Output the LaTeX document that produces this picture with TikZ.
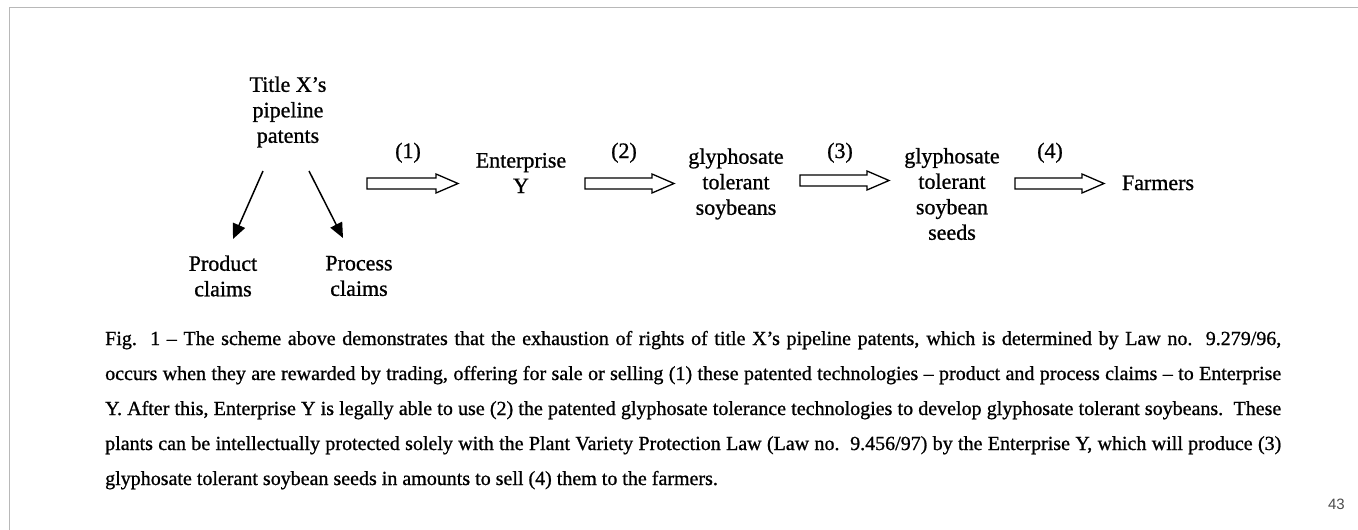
\documentclass[tikz,border=0pt]{standalone}
\usepackage{fontspec}
\setmainfont{Liberation Serif}[FakeBold=0.9]
\newfontfamily\pagefont{Liberation Sans}
\usetikzlibrary{calc,arrows.meta}
\tikzset{
  lbl/.style={inner sep=0pt, font=\fontsize{22}{25.5}\selectfont, align=center},
  numlbl/.style={inner sep=0pt, font=\fontsize{22}{25.5}\selectfont, anchor=base},
  captxt/.style={inner sep=0pt, anchor=base west, font=\fontsize{20}{35}\selectfont},
  thinarr/.style={line width=1.5pt, -{Triangle[length=15pt,width=13pt]}},
  blockarr/.style={line width=1.3pt, line join=miter,
    to path={let \p1=(\tikztostart), \p2=(\tikztotarget) in
      (\x1,\y1+5.5pt) -- (\x2-22pt,\y1+5.5pt) -- (\x2-22pt,\y1+9.5pt) -- (\x2,\y1)
      -- (\x2-22pt,\y1-9.5pt) -- (\x2-22pt,\y1-5.5pt) -- (\x1,\y1-5.5pt) -- cycle}},
  framegray/.style={draw=black!28, line width=1.5pt}
}
\begin{document}
\begin{tikzpicture}[x=1pt,y=-1pt]
\useasboundingbox (0,0) rectangle (1358,530);
\fill[white] (0,0) rectangle (1358,530);
% frame
\coordinate (fa) at (9.5,530);
\coordinate (fb) at (9.5,7.5);
\coordinate (fc) at (1358,7.5);
\draw[framegray] (fa) -- (fb) -- (fc);

% diagram nodes
\node[lbl] (title) at (288,112) {Title X’s\\pipeline\\patents};
\node[lbl] (prod) at (223,276) {Product\\claims};
\node[lbl] (proc) at (359,276) {Process\\claims};
\node[lbl] (ent) at (521,173) {Enterprise\\Y};
\node[lbl] (soy) at (736,184) {glyphosate\\tolerant\\soybeans};
\node[lbl] (seed) at (952,194) {glyphosate\\tolerant\\soybean\\seeds};
\node[numlbl] (farm) at (1158,190) {Farmers};

\node[numlbl] (n1) at (408,158) {(1)};
\node[numlbl] (n2) at (624,158) {(2)};
\node[numlbl] (n3) at (840,158) {(3)};
\node[numlbl] (n4) at (1050,158) {(4)};

% thin arrows
\coordinate (ls) at (263,171);
\coordinate (le) at (233,239);
\coordinate (rs) at (309,171);
\coordinate (re) at (343,238);
\draw[thinarr] (ls) -- (le);
\draw[thinarr] (rs) -- (re);

% block arrows
\coordinate (s1) at (367,183.5);
\coordinate (e1) at (458,183.5);
\coordinate (s2) at (585,183.5);
\coordinate (e2) at (674,183.5);
\coordinate (s3) at (800,180.5);
\coordinate (e3) at (889,180.5);
\coordinate (s4) at (1015,183.5);
\coordinate (e4) at (1104,183.5);
\draw[blockarr] (s1) to (e1);
\draw[blockarr] (s2) to (e2);
\draw[blockarr] (s3) to (e3);
\draw[blockarr] (s4) to (e4);

% caption
\node[captxt] (c1) at (105,345) {\makebox[1176pt][s]{Fig.\ \ 1 – The scheme above demonstrates that the exhaustion of rights of title X’s pipeline patents, which is determined by Law no.\ \ 9.279/96,}};
\node[captxt] (c2) at (105,380) {\makebox[1176pt][s]{occurs when they are rewarded by trading, offering for sale or selling (1) these patented technologies – product and process claims – to Enterprise}};
\node[captxt] (c3) at (105,415) {\makebox[1176pt][s]{Y. After this, Enterprise Y is legally able to use (2) the patented glyphosate tolerance technologies to develop glyphosate tolerant soybeans.\ \ These}};
\node[captxt] (c4) at (105,450) {\makebox[1176pt][s]{plants can be intellectually protected solely with the Plant Variety Protection Law (Law no.\ \ 9.456/97) by the Enterprise Y, which will produce (3)}};
\node[captxt] (c5) at (105,485) {glyphosate tolerant soybean seeds in amounts to sell (4) them to the farmers.};

% page number
\node[anchor=base east, inner sep=0pt, font=\pagefont\fontsize{15}{18}\selectfont, text=black!70] (pg) at (1345,509) {43};
\end{tikzpicture}
\end{document}
